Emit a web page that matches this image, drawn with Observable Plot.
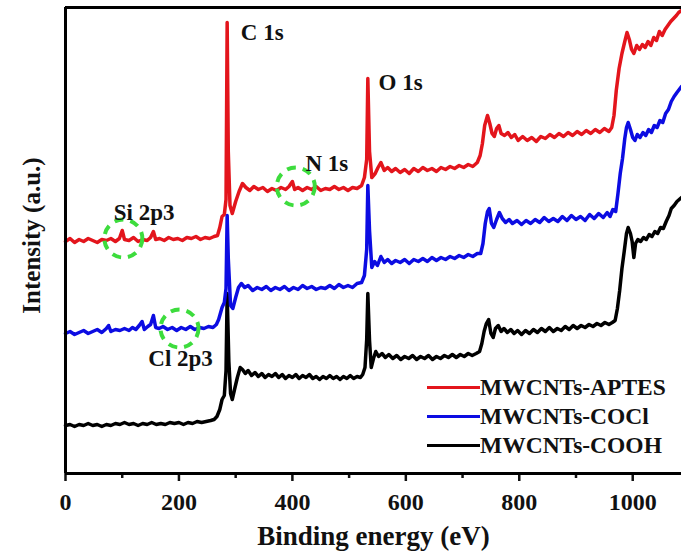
<!DOCTYPE html>
<html><head><meta charset="utf-8">
<script src="https://cdn.jsdelivr.net/npm/d3@7"></script>
<script src="https://cdn.jsdelivr.net/npm/@observablehq/plot@0.6"></script>
<style>
body{margin:0;background:#fff;}
#wrap{position:relative;width:681px;height:555px;font-family:"Liberation Serif","Times New Roman",serif;font-weight:bold;color:#111;}
#legend{position:absolute;left:427px;top:373px;}
.lrow{display:flex;align-items:center;height:29px;font-size:23.5px;line-height:29px;}
.lline{display:inline-block;width:53px;height:3.5px;}
</style></head><body><div id="wrap"></div>
<script>
// XPS survey spectra (binding energy eV, intensity a.u.)
const aptes = [[0,232],[8,235],[16,231],[24,234],[32,232],[40,235],[48,233],[56,231],[64,234],[72,233],[80,235],[88,232],[95,235],[100,243],[104,234],[112,233],[120,236],[128,232],[136,234],[144,233],[150,236],[155,242],[159,234],[166,235],[174,233],[182,236],[190,234],[198,235],[206,233],[214,236],[222,235],[230,237],[238,234],[246,236],[254,235],[262,237],[268,238],[272,246],[276,257],[280,259],[283,274],[285,451],[287,322],[290,268],[294,260],[300,272],[306,282],[312,290],[318,286],[325,283],[332,287],[340,284],[348,286],[356,282],[364,285],[372,283],[380,286],[388,284],[394,287],[400,292],[404,284],[410,286],[418,283],[426,286],[434,284],[442,287],[450,283],[458,285],[466,284],[474,287],[482,284],[490,286],[498,283],[506,286],[514,285],[522,288],[527,296],[531,314],[533,395],[536,322],[540,296],[546,300],[551,306],[556,311],[562,303],[568,306],[575,302],[582,305],[590,301],[598,304],[606,300],[614,305],[622,302],[630,306],[638,303],[646,305],[654,302],[662,306],[670,304],[678,307],[686,305],[694,308],[702,306],[710,309],[718,307],[726,311],[731,318],[735,330],[739,348],[744,358],[748,350],[752,340],[756,337],[760,345],[764,348],[768,340],[774,338],[780,341],[786,336],[792,339],[798,333],[806,337],[814,333],[822,336],[830,332],[838,337],[846,335],[854,339],[862,336],[870,340],[878,337],[886,341],[894,338],[902,342],[910,339],[918,343],[926,340],[934,344],[942,341],[950,345],[958,342],[963,346],[967,358],[971,383],[976,405],[981,420],[986,432],[990,441],[994,434],[998,424],[1002,420],[1007,428],[1012,424],[1017,429],[1022,426],[1027,432],[1032,428],[1037,436],[1042,433],[1047,442],[1052,438],[1057,444],[1062,448],[1067,452],[1072,455],[1077,458],[1081,461],[1086,463]];
const cocl = [[0,140],[8,142],[16,139],[24,141],[32,143],[40,140],[48,142],[56,144],[64,141],[72,145],[76,148],[80,142],[88,144],[96,143],[104,145],[112,143],[118,146],[124,144],[130,148],[135,152],[139,144],[145,147],[150,149],[155,158],[159,146],[165,145],[172,147],[180,144],[188,146],[196,143],[204,146],[212,144],[220,147],[228,144],[236,146],[244,145],[252,147],[260,146],[266,149],[270,154],[276,166],[280,171],[283,185],[285,258],[287,215],[291,168],[295,165],[300,176],[305,186],[310,190],[316,186],[322,188],[330,183],[338,186],[346,184],[354,187],[362,183],[370,186],[378,184],[386,187],[394,183],[402,186],[410,184],[418,188],[426,185],[434,187],[442,184],[450,186],[458,185],[466,188],[474,185],[482,189],[490,186],[498,188],[506,186],[514,190],[522,191],[527,198],[531,224],[533,288],[536,243],[540,206],[545,212],[550,208],[556,217],[562,211],[568,214],[575,210],[582,213],[590,211],[598,214],[606,210],[614,214],[622,212],[630,215],[638,212],[646,216],[654,213],[662,216],[670,214],[678,217],[686,215],[694,218],[702,216],[710,219],[718,217],[726,220],[732,220],[736,230],[740,250],[744,262],[747,265],[751,250],[755,246],[760,254],[765,261],[770,255],[776,251],[782,254],[788,250],[796,253],[804,249],[812,253],[820,250],[828,254],[836,251],[844,256],[852,252],[860,255],[868,252],[876,257],[884,253],[892,258],[900,254],[908,257],[916,253],[924,259],[932,255],[940,260],[948,256],[955,261],[960,257],[965,264],[970,262],[974,280],[978,300],[982,315],[986,335],[989,346],[992,351],[996,344],[1000,336],[1004,333],[1008,339],[1013,336],[1018,341],[1023,338],[1028,344],[1033,341],[1038,348],[1043,346],[1048,353],[1053,351],[1058,360],[1063,364],[1068,372],[1073,377],[1078,381],[1082,384],[1086,387]];
const cooh = [[0,48],[8,49],[16,47],[24,49],[32,48],[40,50],[48,48],[56,49],[64,47],[72,49],[80,48],[88,50],[96,49],[104,51],[112,49],[120,50],[128,48],[136,50],[144,49],[152,51],[160,49],[168,50],[176,49],[184,51],[192,50],[200,51],[208,49],[216,51],[224,50],[232,52],[240,51],[248,52],[256,53],[262,54],[267,57],[272,64],[276,74],[280,78],[283,103],[285,180],[288,112],[291,80],[294,74],[298,84],[303,96],[308,106],[312,104],[317,100],[322,103],[328,98],[334,101],[340,97],[346,100],[352,96],[358,99],[364,97],[370,100],[376,96],[382,99],[388,95],[394,98],[400,96],[406,99],[412,95],[418,98],[424,96],[430,99],[436,95],[442,97],[448,94],[454,97],[460,95],[466,98],[472,95],[478,97],[484,94],[490,97],[496,95],[502,98],[508,95],[514,97],[520,96],[524,99],[528,106],[531,134],[533,180],[536,133],[539,106],[543,115],[547,122],[552,117],[558,120],[564,116],[570,119],[577,115],[584,118],[591,114],[598,117],[605,115],[612,118],[619,114],[626,117],[633,115],[640,118],[647,114],[654,117],[661,115],[668,118],[675,116],[682,119],[689,116],[696,119],[703,117],[710,120],[717,118],[724,120],[730,122],[734,130],[738,142],[742,150],[746,154],[750,140],[754,136],[758,145],[763,148],[768,142],[773,145],[779,141],[785,144],[791,140],[797,143],[804,139],[811,143],[818,140],[825,144],[832,141],[839,145],[846,142],[853,146],[860,142],[867,145],[874,143],[881,147],[888,144],[895,148],[902,145],[909,148],[916,146],[923,149],[930,147],[937,150],[944,148],[951,151],[958,149],[964,151],[969,153],[973,165],[977,183],[981,205],[985,222],[989,240],[992,246],[996,240],[999,232],[1002,216],[1005,230],[1009,234],[1014,232],[1019,236],[1024,234],[1029,239],[1034,237],[1039,242],[1044,240],[1049,246],[1054,245],[1059,252],[1064,258],[1068,265],[1073,268],[1078,272],[1082,274],[1086,276]];

const seriesNames = ["MWCNTs-COOH","MWCNTs-COCl","MWCNTs-APTES"];
const seriesColors = ["#000000","#0c0ce2","#e3151c"];
const legendOrder = ["MWCNTs-APTES","MWCNTs-COCl","MWCNTs-COOH"];

const majorTicks = [0,200,400,600,800,1000];
const minorTicks = [100,300,500,700,900];

const peakLabels = ["C 1s","O 1s","N 1s","Si 2p3","Cl 2p3"];
const peakEnergy = [309,552,423,85,146];
const peakIntensity = [441,391,310,261,115];

const circleEnergy = [102,406,201];
const circleIntensity = [235,287,145];

const xTitle = "Binding energy (eV)";
const yTitle = "Intensity (a.u.)";

const rows = [cooh, cocl, aptes].flatMap((d, k) =>
  d.map(([e, v]) => ({series: seriesNames[k], energy: e, intensity: v})));
const peaks = peakLabels.map((t, i) => ({label: t, energy: peakEnergy[i], intensity: peakIntensity[i]}));
const circles = circleEnergy.map((e, i) => ({energy: e, intensity: circleIntensity[i]}));

const chart = Plot.plot({
  width: 681, height: 555,
  marginLeft: 65, marginRight: 0, marginTop: 7, marginBottom: 82,
  x: {domain: [0, 1086]},
  y: {domain: [0, 466], axis: null},
  color: {domain: seriesNames, range: seriesColors},
  style: {fontFamily: "'Liberation Serif','Times New Roman',serif", fontWeight: "bold", background: "white", color: "#111", overflow: "visible"},
  marks: [
    Plot.axisX({ticks: majorTicks, tickSize: 8, tickPadding: 11, strokeWidth: 2.5, fontSize: 24, label: null, tickFormat: d => String(d)}),
    Plot.axisX({ticks: minorTicks, tickSize: 5, strokeWidth: 2.5, label: null, tickFormat: () => ""}),
    Plot.line(rows, {x: "energy", y: "intensity", z: "series", stroke: "series", strokeWidth: 3.5, strokeLinejoin: "round"}),
    Plot.dot(circles, {x: "energy", y: "intensity", r: 19, stroke: "#3ddc3d", strokeWidth: 4, strokeDasharray: "9,7", fill: "none"}),
    Plot.text(peaks, {x: "energy", y: "intensity", text: "label", textAnchor: "start", fontSize: 23, fontWeight: "bold", fill: "#111"}),
    Plot.ruleX([0], {stroke: "#000", strokeWidth: 3}),
    Plot.ruleY([0], {stroke: "#000", strokeWidth: 3}),
    Plot.ruleY([466], {stroke: "#000", strokeWidth: 3}),
    Plot.text([xTitle], {frameAnchor: "bottom", dy: 71, fontSize: 27, fontWeight: "bold", fill: "#111"}),
    Plot.text([yTitle], {frameAnchor: "left", textAnchor: "middle", rotate: -90, dx: -34, dy: -5, fontSize: 25, fontWeight: "bold", fill: "#111"})
  ]
});

const wrap = document.getElementById("wrap");
wrap.appendChild(chart);
const legend = document.createElement("div");
legend.id = "legend";
legendOrder.forEach(name => {
  const row = document.createElement("div");
  row.className = "lrow";
  const ln = document.createElement("span");
  ln.className = "lline";
  ln.style.background = seriesColors[seriesNames.indexOf(name)];
  const tx = document.createElement("span");
  tx.textContent = name;
  row.appendChild(ln); row.appendChild(tx);
  legend.appendChild(row);
});
wrap.appendChild(legend);
</script></body></html>
